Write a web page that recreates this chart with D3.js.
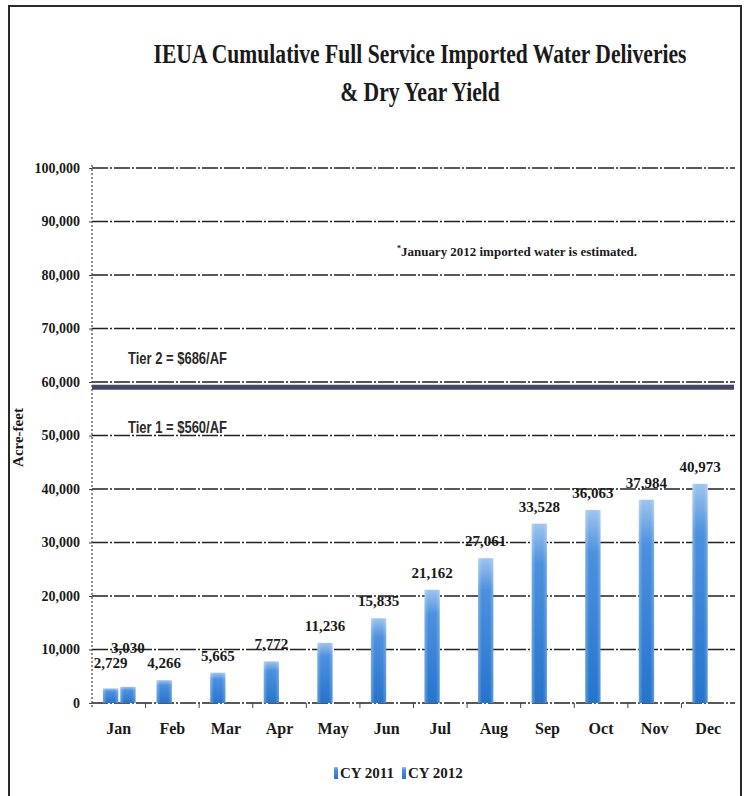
<!DOCTYPE html>
<html>
<head>
<meta charset="utf-8">
<script src="https://cdn.jsdelivr.net/npm/d3@7"></script>
<style>
  html, body { margin: 0; padding: 0; background: #fff; }
  svg { display: block; }
</style>
</head>
<body>
<div id="chart"></div>
<script>
// data
const months = ['Jan', 'Feb', 'Mar', 'Apr', 'May', 'Jun', 'Jul', 'Aug', 'Sep', 'Oct', 'Nov', 'Dec'];
const seriesNames = ['CY 2011', 'CY 2012'];
const cy2011 = [2729, 4266, 5665, 7772, 11236, 15835, 21162, 27061, 33528, 36063, 37984, 40973];
const cy2012 = [3030];
const yTicks = [0, 10000, 20000, 30000, 40000, 50000, 60000, 70000, 80000, 90000, 100000];
const tierLimit = 59000;
const tierLabels = ['Tier 2 = $686/AF', 'Tier 1 = $560/AF'];
const tierLabelValues = [63300, 50500];

const W = 744, H = 796;
const serif = "'Liberation Serif', 'DejaVu Serif', serif";
const sans = "'Liberation Sans Narrow', 'Liberation Sans', Arial, sans-serif";

const svg = d3.select('#chart').append('svg')
    .attr('width', W)
    .attr('height', H);

// page frame
svg.append('rect')
    .attr('x', 9).attr('y', 6)
    .attr('width', 732).attr('height', 800)
    .attr('fill', 'none')
    .attr('stroke', '#2a2a2a')
    .attr('stroke-width', 2);

// title, squeezed horizontally like the condensed original face
const titleLines = ['IEUA Cumulative  Full Service Imported Water Deliveries', '& Dry Year Yield'];
titleLines.forEach((t, i) => {
    svg.append('text')
        .attr('transform', `translate(420, ${63 + i * 38}) scale(0.8, 1)`)
        .attr('text-anchor', 'middle')
        .style('font-family', serif)
        .style('font-weight', 'bold')
        .style('font-size', '27px')
        .style('fill', '#1a1a1a')
        .text(t);
});

// scales
const x0 = d3.scaleBand()
    .domain(months)
    .range([92, 735]);

const x1 = d3.scaleBand()
    .domain(seriesNames)
    .range([11, x0.bandwidth() - 10])
    .paddingInner(0.12);

const y = d3.scaleLinear()
    .domain([0, 100000])
    .range([703, 168]);

// gradient for the bars
const defs = svg.append('defs');
const grad = defs.append('linearGradient')
    .attr('id', 'barGrad')
    .attr('x1', '0%').attr('y1', '0%')
    .attr('x2', '0%').attr('y2', '100%');
grad.append('stop').attr('offset', '0%').attr('stop-color', '#9fc4ef');
grad.append('stop').attr('offset', '22%').attr('stop-color', '#4d91de');
grad.append('stop').attr('offset', '100%').attr('stop-color', '#2574cc');

const hgrad = defs.append('linearGradient')
    .attr('id', 'barEdge')
    .attr('x1', '0%').attr('y1', '0%')
    .attr('x2', '100%').attr('y2', '0%');
hgrad.append('stop').attr('offset', '0%').attr('stop-color', '#fff').attr('stop-opacity', 0.3);
hgrad.append('stop').attr('offset', '25%').attr('stop-color', '#fff').attr('stop-opacity', 0);
hgrad.append('stop').attr('offset', '75%').attr('stop-color', '#fff').attr('stop-opacity', 0);
hgrad.append('stop').attr('offset', '100%').attr('stop-color', '#fff').attr('stop-opacity', 0.25);

// gridlines (dash-dot, as scanned)
svg.append('g')
    .selectAll('line')
    .data(yTicks)
    .enter()
    .append('line')
    .attr('x1', 92)
    .attr('x2', 735)
    .attr('y1', d => y(d))
    .attr('y2', d => y(d))
    .attr('stroke', '#222')
    .attr('stroke-width', 1.4)
    .attr('stroke-dasharray', '16,2,2,2');

// y axis line (dotted)
svg.append('line')
    .attr('x1', 92).attr('x2', 92)
    .attr('y1', y(100000) - 3).attr('y2', y(0) + 4)
    .attr('stroke', '#444')
    .attr('stroke-width', 1.2)
    .attr('stroke-dasharray', '2,2');

// y axis labels
const yAxis = svg.append('g')
    .attr('transform', 'translate(92,0)')
    .call(d3.axisLeft(y).tickValues(yTicks).tickSize(3).tickPadding(9).tickFormat(d3.format(',')));
yAxis.select('.domain').remove();
yAxis.selectAll('.tick line').attr('stroke', '#444');
yAxis.selectAll('.tick text')
    .style('font-family', serif)
    .style('font-weight', 'bold')
    .style('font-size', '14px')
    .style('fill', '#1a1a1a');

svg.append('text')
    .attr('transform', `translate(23, ${y(50000) + 2}) rotate(-90)`)
    .attr('text-anchor', 'middle')
    .style('font-family', serif)
    .style('font-weight', 'bold')
    .style('font-size', '15px')
    .style('fill', '#1a1a1a')
    .text('Acre-feet');

// x axis
const xAxis = svg.append('g')
    .attr('transform', `translate(0, ${y(0)})`)
    .call(d3.axisBottom(x0).tickSize(0).tickPadding(20));
xAxis.select('.domain').remove();
xAxis.selectAll('.tick text')
    .style('font-family', serif)
    .style('font-weight', 'bold')
    .style('font-size', '16px')
    .style('fill', '#1a1a1a');

// small boundary ticks under the axis
svg.append('g')
    .selectAll('line')
    .data(months.slice(1))
    .enter()
    .append('line')
    .attr('x1', d => x0(d))
    .attr('x2', d => x0(d))
    .attr('y1', y(0))
    .attr('y2', y(0) + 5)
    .attr('stroke', '#444')
    .attr('stroke-width', 1);

// tier threshold band
svg.append('line')
    .attr('x1', 92).attr('x2', 734)
    .attr('y1', y(tierLimit)).attr('y2', y(tierLimit))
    .attr('stroke', '#454860')
    .attr('stroke-width', 5);

svg.append('g')
    .selectAll('text')
    .data(tierLabels)
    .enter()
    .append('text')
    .attr('x', 128)
    .attr('y', (d, i) => y(tierLabelValues[i]))
    .attr('textLength', 99)
    .attr('lengthAdjust', 'spacingAndGlyphs')
    .style('font-family', sans)
    .style('font-weight', 'bold')
    .style('font-size', '17px')
    .style('fill', '#2a2a2a')
    .text(d => d);

// note
const note = svg.append('text')
    .attr('x', 397).attr('y', 256)
    .style('font-family', serif)
    .style('font-weight', 'bold')
    .style('font-size', '13px')
    .style('fill', '#1a1a1a');
note.append('tspan')
    .attr('dy', -5)
    .style('font-size', '8px')
    .text('*');
note.append('tspan')
    .attr('dy', 5)
    .attr('textLength', 236)
    .attr('lengthAdjust', 'spacingAndGlyphs')
    .text('January 2012 imported water is estimated.');

// bars
const points = [];
cy2011.forEach((v, i) => points.push({ month: months[i], series: 'CY 2011', value: v }));
cy2012.forEach((v, i) => points.push({ month: months[i], series: 'CY 2012', value: v }));

svg.append('g')
    .selectAll('rect')
    .data(points)
    .enter()
    .append('rect')
    .attr('x', d => x0(d.month) + x1(d.series))
    .attr('y', d => y(d.value))
    .attr('width', x1.bandwidth())
    .attr('height', d => y(0) - y(d.value))
    .attr('fill', 'url(#barGrad)');

svg.append('g')
    .selectAll('rect')
    .data(points)
    .enter()
    .append('rect')
    .attr('x', d => x0(d.month) + x1(d.series))
    .attr('y', d => y(d.value))
    .attr('width', x1.bandwidth())
    .attr('height', d => y(0) - y(d.value))
    .attr('fill', 'url(#barEdge)');

// value labels
svg.append('g')
    .selectAll('text')
    .data(points)
    .enter()
    .append('text')
    .attr('x', d => x0(d.month) + x1(d.series) + x1.bandwidth() / 2)
    .attr('y', d => y(d.value) - (d.series === 'CY 2012' ? 34 : (d.month === 'Jan' ? 20 : 12)))
    .attr('text-anchor', 'middle')
    .style('font-family', serif)
    .style('font-weight', 'bold')
    .style('font-size', '15px')
    .style('fill', '#1a1a1a')
    .text(d => d3.format(',')(d.value));

// legend
const legend = svg.append('g')
    .attr('transform', 'translate(334, 767)');

seriesNames.forEach((name, i) => {
    const g = legend.append('g')
        .attr('transform', `translate(${i * 68}, 0)`);
    g.append('rect')
        .attr('x', 0).attr('y', 0)
        .attr('width', 4).attr('height', 12)
        .attr('fill', 'url(#barGrad)');
    g.append('text')
        .attr('x', 6).attr('y', 11)
        .style('font-family', serif)
        .style('font-weight', 'bold')
        .style('font-size', '15px')
        .style('fill', '#1a1a1a')
        .text(name);
});
</script>
</body>
</html>
